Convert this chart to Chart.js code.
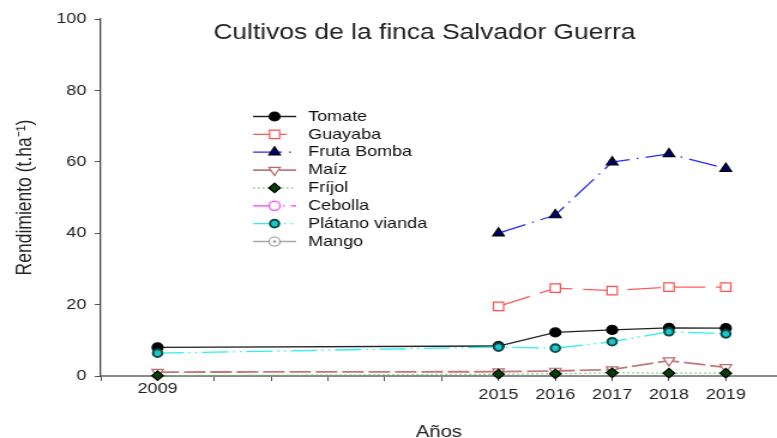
<!DOCTYPE html>
<html>
<head>
<meta charset="utf-8">
<script src="https://cdn.jsdelivr.net/npm/chart.js@4.4.0/dist/chart.umd.min.js"></script>
<style>
  html, body { margin: 0; padding: 0; background: #fff; overflow: hidden; }
  /* la figura original esta estirada en horizontal */
  #wrap { position: relative; width: 648px; height: 438px; transform: scaleX(1.199); transform-origin: 0 0; }
</style>
</head>
<body>
<div id="wrap"><canvas id="myChart"></canvas></div>
<script>
const titulo = "Cultivos de la finca Salvador Guerra";
const anos = [2009, 2015, 2016, 2017, 2018, 2019];
const etiquetasX = [2009, 2015, 2016, 2017, 2018, 2019];
const ticksY = [0, 20, 40, 60, 80, 100];

const tomate     = [8.0, 8.4, 12.2, 12.9, 13.5, 13.4];
const guayaba    = [null, 19.5, 24.6, 23.9, 24.9, 24.9];
const frutaBomba = [null, 40.0, 45.1, 59.9, 62.2, 58.1];
const maiz       = [1.1, 1.2, 1.4, 1.8, 4.3, 2.4];
const frijol     = [0.1, 0.5, 0.6, 0.9, 0.8, 0.8];
const cebolla    = [null, null, null, null, null, null];
const platano    = [6.4, 8.1, 7.8, 9.6, 12.4, 11.8];
const mango      = [null, null, null, null, null, null];

const fuente = '"Liberation Sans", Arial, sans-serif';

function puntos(serie) {
  return anos.map((a, i) => ({ x: a, y: serie[i] }));
}

const tituloPlugin = {
  id: "titulo",
  afterDraw(chart) {
    const c = chart.ctx;
    c.save();
    c.font = "22px " + fuente;
    c.fillStyle = "#222";
    c.textAlign = "center";
    c.textBaseline = "middle";
    c.fillText(titulo, 354, 33);
    c.restore();
  }
};

// leyenda dentro del area, linea + marcador + texto
const leyendaPlugin = {
  id: "leyenda",
  afterDraw(chart) {
    const c = chart.ctx;
    chart.data.datasets.forEach((ds, i) => {
      const y = 116.5 + i * 17.86;
      c.save();
      c.strokeStyle = ds.borderColor;
      c.lineWidth = ds.borderWidth;
      c.setLineDash(ds.borderDash || []);
      c.beginPath();
      c.moveTo(211, y);
      c.lineTo(247, y);
      c.stroke();
      c.setLineDash([]);
      c.fillStyle = ds.pointBackgroundColor;
      c.strokeStyle = ds.pointBorderColor;
      c.lineWidth = ds.pointBorderWidth;
      Chart.helpers.drawPoint(c, {
        pointStyle: ds.pointStyle,
        rotation: ds.pointRotation || 0,
        radius: ds.pointRadius,
        borderWidth: ds.pointBorderWidth
      }, 229, y);
      if (ds.label === "Mango") {
        c.fillStyle = ds.pointBorderColor;
        c.beginPath();
        c.arc(229, y, 1.3, 0, Math.PI * 2);
        c.fill();
      }
      c.font = "15px " + fuente;
      c.fillStyle = "#111";
      c.textAlign = "left";
      c.textBaseline = "middle";
      c.fillText(ds.label, 257, y);
      c.restore();
    });
  }
};

function serie(label, datos, color, dash, estilo, radio, relleno, borde, extra) {
  return Object.assign({
    label: label,
    data: puntos(datos),
    borderColor: color,
    borderWidth: 1.3,
    borderDash: dash,
    pointStyle: estilo,
    pointRadius: radio,
    pointHoverRadius: radio,
    pointBackgroundColor: relleno,
    pointBorderColor: borde,
    pointBorderWidth: 1.2,
    tension: 0,
    clip: false
  }, extra || {});
}

var ctx = document.getElementById("myChart").getContext("2d");

var myChart = new Chart(ctx, {
  type: "line",
  data: {
    datasets: [
      serie("Tomate", tomate, "#222", [], "circle", 4.5, "#000", "#000", { order: 5 }),
      serie("Guayaba", guayaba, "#ff5c5c", [28, 9], "rect", 6, "#fff", "#ff5050", { order: 4 }),
      serie("Fruta Bomba", frutaBomba, "#2a2aff", [24, 6, 1.5, 6], "triangle", 5.5, "#000070", "#000", { order: 3 }),
      serie("Maíz", maiz, "#c07a7a", [18, 4], "triangle", 5.5, "#fff", "#b86c6c", { order: 7, pointRotation: 180, borderWidth: 1.8 }),
      serie("Fríjol", frijol, "#6cc46c", [1.5, 2.5], "rectRot", 4.8, "#064006", "#000", { order: 1 }),
      serie("Cebolla", cebolla, "#ff3cff", [20, 5, 1.5, 5], "circle", 4.6, "#fff", "#ff3cff", { order: 6 }),
      serie("Plátano vianda", platano, "#2af0f0", [22, 4, 1.5, 4, 1.5, 4], "circle", 3.8, "#19c8c8", "#0a4848", { order: 2, pointBorderWidth: 2 }),
      serie("Mango", mango, "#a8a8a8", [], "circle", 4.5, "#fff", "#999", { order: 8 })
    ]
  },
  options: {
    responsive: true,
    maintainAspectRatio: false,
    animation: false,
    layout: { autoPadding: false, padding: { top: 19, left: 0, right: 0, bottom: 0 } },
    plugins: {
      legend: { display: false },
      title: { display: false },
      tooltip: { enabled: false }
    },
    scales: {
      x: {
        type: "linear",
        min: 2008,
        max: 2019.9,
        afterFit: (scale) => {
          scale.height = 62;
          scale.paddingLeft = 0;
          scale.paddingRight = 0;
        },
        grid: { display: true, drawOnChartArea: false, drawTicks: true, tickLength: 5, tickColor: "#555", tickWidth: 1 },
        border: { display: true, color: "#8a8a8a", width: 2 },
        ticks: {
          stepSize: 1,
          includeBounds: false,
          autoSkip: false,
          maxRotation: 0,
          padding: 0,
          color: "#222",
          font: (c) => ({
            family: fuente,
            size: 15,
            lineHeight: c.tick && c.tick.value === 2009 ? "15px" : "28px"
          }),
          callback: (v) => etiquetasX.includes(v) ? String(v) : ""
        },
        title: {
          display: true,
          text: "Años",
          color: "#222",
          font: { family: fuente, size: 17, lineHeight: "12px" },
          padding: { top: 0, bottom: 0 }
        }
      },
      y: {
        min: 0,
        max: 100,
        afterFit: (scale) => { scale.width = 84; },
        afterBuildTicks: (scale) => { scale.ticks = ticksY.map((v) => ({ value: v })); },
        grid: { display: true, drawOnChartArea: false, drawTicks: true, tickLength: 5, tickColor: "#555", tickWidth: 1 },
        border: { display: true, color: "#444", width: 1.3 },
        ticks: {
          padding: 7,
          color: "#222",
          font: { family: fuente, size: 15 }
        },
        title: {
          display: true,
          text: "Rendimiento (t.ha⁻¹)",
          color: "#222",
          font: { family: fuente, size: 17.5, lineHeight: "20px" },
          padding: { top: 11, bottom: 0 }
        }
      }
    }
  },
  plugins: [tituloPlugin, leyendaPlugin]
});
</script>
</body>
</html>
